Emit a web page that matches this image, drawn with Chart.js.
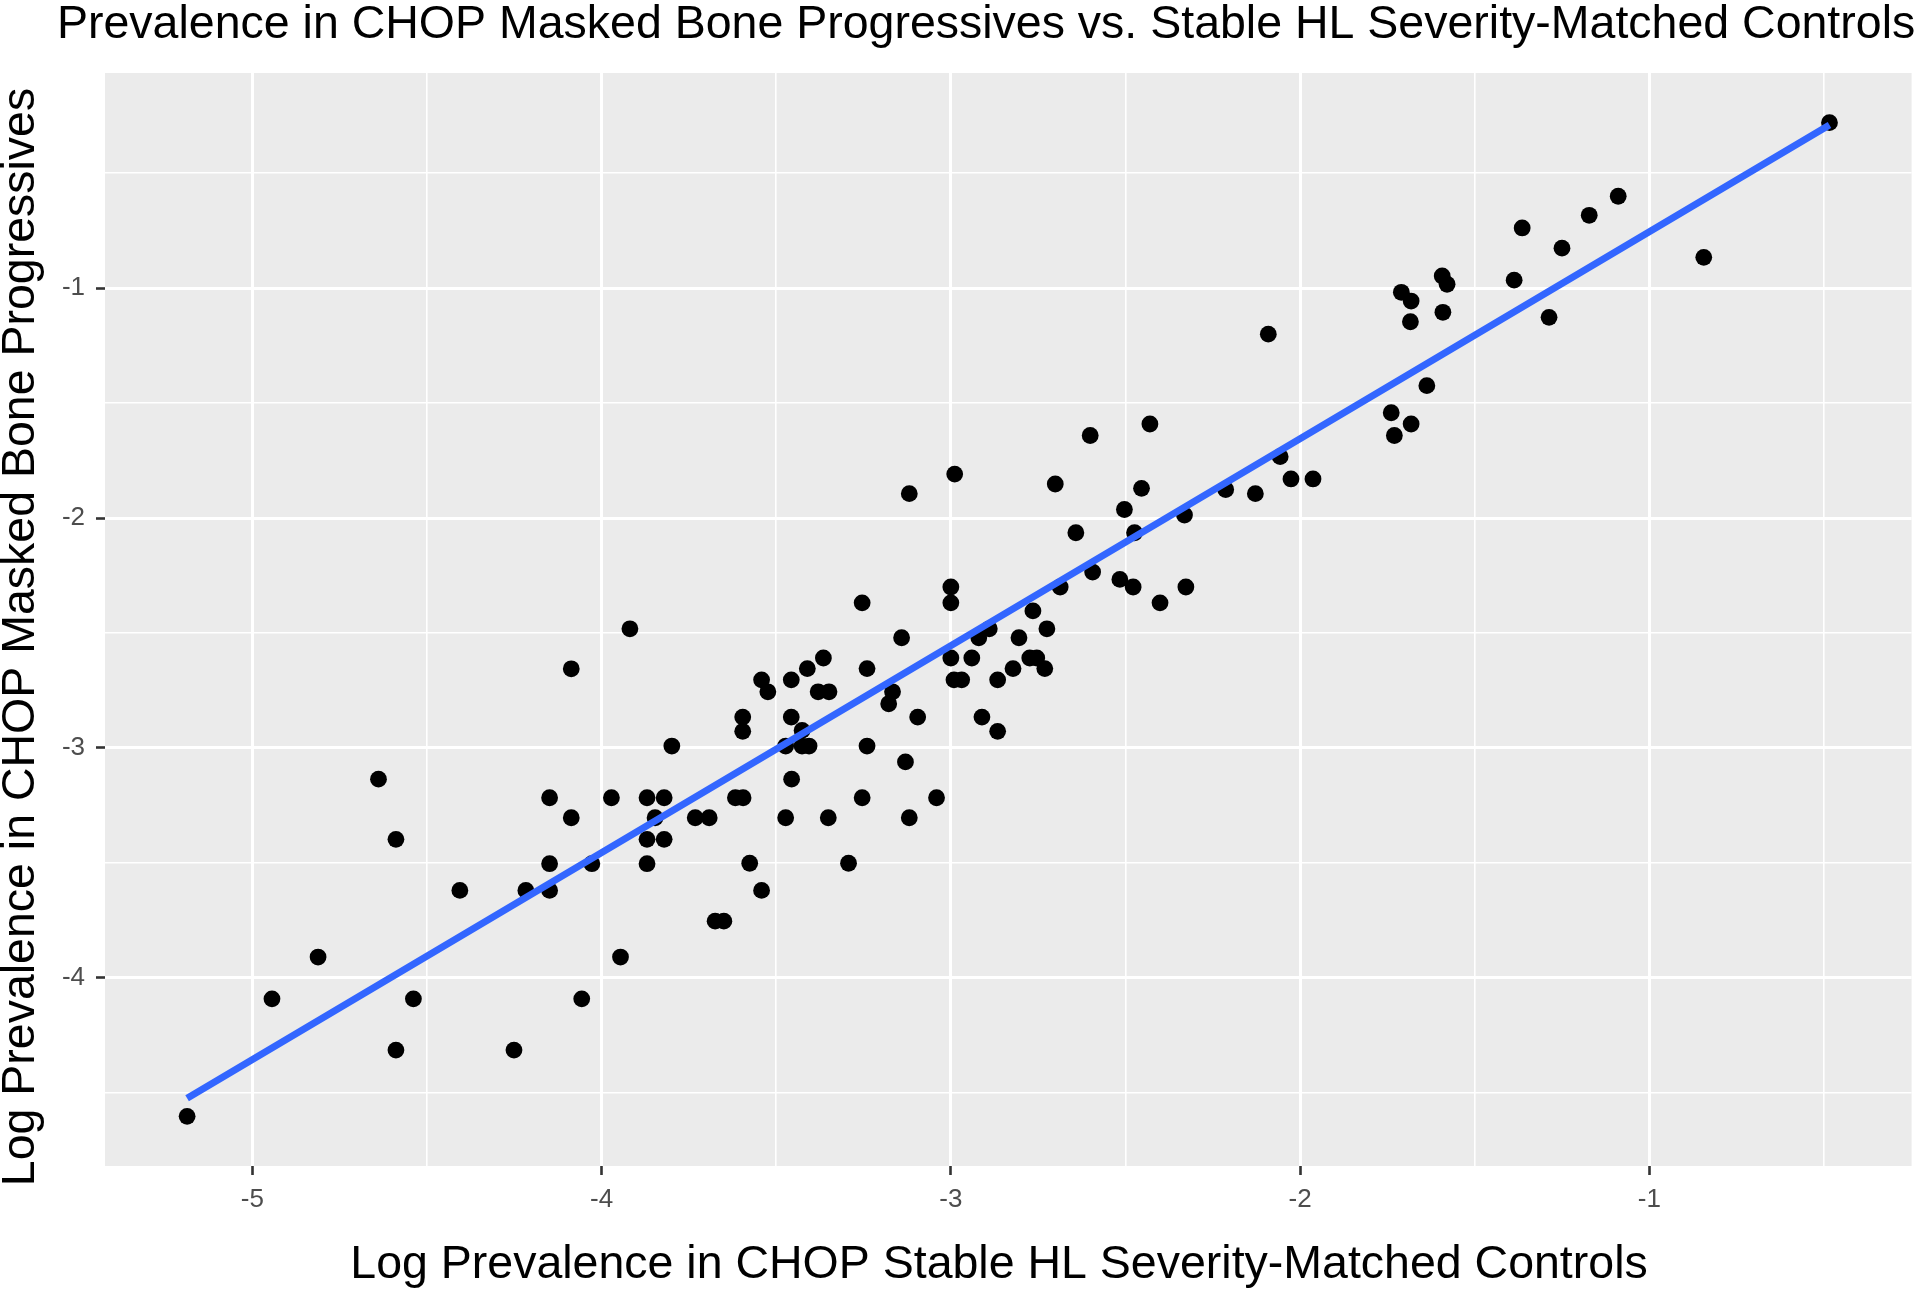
<!DOCTYPE html>
<html>
<head>
<meta charset="utf-8">
<script src="https://cdn.jsdelivr.net/npm/chart.js@4.4.0/dist/chart.umd.min.js"></script>
<style>
html,body{margin:0;padding:0;background:#ffffff;}
canvas{display:block;}
</style>
</head>
<body>
<canvas id="c" width="1920" height="1290"></canvas>
<script>
const chartTitle = "Prevalence in CHOP Masked Bone Progressives vs. Stable HL Severity-Matched Controls";
const xAxisTitle = "Log Prevalence in CHOP Stable HL Severity-Matched Controls";
const yAxisTitle = "Log Prevalence in CHOP Masked Bone Progressives";

const xMajorTicks = [-5, -4, -3, -2, -1];
const xMinorTicks = [-4.5, -3.5, -2.5, -1.5, -0.5];
const yMajorTicks = [-4, -3, -2, -1];
const yMinorTicks = [-4.5, -3.5, -2.5, -1.5, -0.5];

// Log prevalence in stable HL severity-matched controls (x)
const controlsLogPrev = [
  -0.484,-1.089,-1.172,-1.364,-1.250,-0.844,-1.387,-1.593,-1.579,-1.710,-1.682,-1.591,-1.684,-1.287,-1.637,-1.739,-1.682,-1.730,
  -2.091,-2.430,-2.601,-2.989,-3.119,-2.701,-2.454,-2.503,-2.331,-2.213,-2.128,-2.057,-2.026,-1.963,-2.642,-2.474,-2.594,-2.687,-2.516,-2.478,-2.401,-2.327,-2.765,-3.000,-3.000,-3.254,
  -3.141,-3.365,-3.411,-3.240,-3.542,-3.457,-3.524,-3.380,-3.349,-3.167,-3.178,-3.596,-3.457,-3.095,-3.596,-3.426,-3.473,-3.426,-3.406,-3.240,-3.130,-3.456,-3.617,-3.595,-3.254,-3.041,-3.473,-3.351,-3.119,-3.576,-3.293,-3.542,-3.675,-3.650,-3.000,-2.940,-2.991,-2.969,-2.920,-2.890,-2.805,-2.774,-2.754,-2.725,-2.822,-2.731,-2.866,-2.911,-2.866,
  -3.919,-4.087,-3.799,-4.639,-4.149,-3.972,-3.870,-3.821,-4.087,-3.847,-3.732,-3.692,-4.589,-3.870,-3.821,-4.149,-4.028,-3.870,-4.406,-4.217,-4.149,-4.812,-3.946,-4.944,-4.539,-4.057,-4.589,-4.251,-5.187
];
// Log prevalence in masked bone progressives (y)
const progressivesLogPrev = [
  -0.280,-0.600,-0.683,-0.738,-0.826,-0.866,-0.965,-0.947,-0.983,-1.018,-1.056,-1.105,-1.146,-1.127,-1.424,-1.542,-1.591,-1.641,
  -1.200,-1.591,-1.641,-1.809,-1.894,-1.852,-1.871,-1.963,-1.987,-1.876,-1.894,-1.733,-1.830,-1.830,-2.064,-2.064,-2.235,-2.300,-2.267,-2.300,-2.369,-2.300,-2.404,-2.300,-2.369,-2.369,
  -2.521,-2.609,-2.655,-2.655,-2.704,-2.704,-2.756,-2.756,-2.756,-2.756,-2.808,-2.866,-2.866,-2.866,-2.928,-2.924,-2.992,-2.992,-2.992,-2.992,-3.061,-3.136,-3.217,-3.217,-3.217,-3.217,-3.304,-3.304,-3.304,-3.502,-3.502,-3.620,-3.754,-3.754,-2.609,-2.609,-2.704,-2.704,-2.521,-2.482,-2.521,-2.609,-2.609,-2.482,-2.655,-2.655,-2.704,-2.866,-2.928,
  -2.482,-2.656,-2.992,-3.136,-3.217,-3.217,-3.217,-3.217,-3.304,-3.304,-3.304,-3.304,-3.398,-3.398,-3.398,-3.504,-3.504,-3.504,-3.620,-3.620,-3.620,-3.910,-3.910,-4.092,-4.092,-4.092,-4.315,-4.315,-4.603
];

// Linear fit line endpoints
const fitX = [-5.187, -0.484];
const fitY = [-4.524, -0.290];

const FONT_FAMILY = 'Liberation Sans, Arial, Helvetica, sans-serif';
const TICK_SIZE = 26;

Chart.defaults.font.family = FONT_FAMILY;
Chart.defaults.font.size = TICK_SIZE;
Chart.defaults.color = '#4D4D4D';

function expand(arr) {
  const lo = Math.min(...arr), hi = Math.max(...arr), r = hi - lo;
  return [lo - 0.05 * r, hi + 0.05 * r];
}
const [xMin, xMax] = expand(controlsLogPrev);
const [yMin, yMax] = expand(progressivesLogPrev);

const isMajorX = v => xMajorTicks.some(t => Math.abs(t - v) < 1e-9);
const isMajorY = v => yMajorTicks.some(t => Math.abs(t - v) < 1e-9);

const panelPlugin = {
  id: 'panel',
  beforeDraw(chart) {
    const { ctx, chartArea: a } = chart;
    ctx.save();
    ctx.fillStyle = '#EBEBEB';
    ctx.fillRect(a.left, a.top, a.right - a.left, a.bottom - a.top);
    ctx.restore();
  },
  afterDraw(chart) {
    const ctx = chart.ctx;
    ctx.save();
    ctx.fillStyle = '#000000';
    ctx.font = '46.5px ' + FONT_FAMILY;
    ctx.textBaseline = 'alphabetic';
    ctx.textAlign = 'left';
    ctx.fillText(chartTitle, 57, 38);
    ctx.textAlign = 'center';
    ctx.fillText(xAxisTitle, 999, 1278);
    ctx.translate(34, 637);
    ctx.rotate(-Math.PI / 2);
    ctx.fillText(yAxisTitle, 0, 0);
    ctx.restore();
  }
};

function gridCfg(isMajor) {
  return {
    color: '#FFFFFF',
    lineWidth: c => (c.tick && isMajor(c.tick.value)) ? 3 : 1.6,
    drawTicks: true,
    tickLength: 9,
    tickColor: c => (c.tick && isMajor(c.tick.value)) ? '#333333' : 'rgba(0,0,0,0)',
    tickWidth: c => (c.tick && isMajor(c.tick.value)) ? 2.6 : 0
  };
}

function build() {
  new Chart(document.getElementById('c'), {
    type: 'scatter',
    data: {
      datasets: [
        {
          type: 'line',
          label: 'fit',
          data: fitX.map((x, i) => ({ x: x, y: fitY[i] })),
          borderColor: '#3366FF',
          borderWidth: 7,
          pointRadius: 0,
          fill: false,
          tension: 0,
          order: 0
        },
        {
          type: 'scatter',
          label: 'points',
          data: controlsLogPrev.map((x, i) => ({ x: x, y: progressivesLogPrev[i] })),
          backgroundColor: '#000000',
          borderColor: '#000000',
          borderWidth: 0,
          pointRadius: 8.4,
          order: 1
        }
      ]
    },
    options: {
      responsive: false,
      animation: false,
      layout: { padding: { left: 0, right: 2, top: 73, bottom: 0 } },
      plugins: { legend: { display: false }, tooltip: { enabled: false }, title: { display: false } },
      scales: {
        x: {
          type: 'linear',
          min: xMin, max: xMax,
          afterFit(s) { s.height = 124; },
          afterBuildTicks(s) { s.ticks = [...xMajorTicks, ...xMinorTicks].sort((a, b) => a - b).map(v => ({ value: v })); },
          grid: gridCfg(isMajorX),
          border: { display: false },
          ticks: {
            autoSkip: false, maxRotation: 0, minRotation: 0, padding: 9,
            color: '#4D4D4D', font: { family: FONT_FAMILY, size: TICK_SIZE },
            callback: v => isMajorX(v) ? String(v) : ''
          }
        },
        y: {
          type: 'linear',
          min: yMin, max: yMax,
          afterFit(s) { s.width = 105; },
          afterBuildTicks(s) { s.ticks = [...yMajorTicks, ...yMinorTicks].sort((a, b) => a - b).map(v => ({ value: v })); },
          grid: gridCfg(isMajorY),
          border: { display: false },
          ticks: {
            autoSkip: false, padding: 11,
            color: '#4D4D4D', font: { family: FONT_FAMILY, size: TICK_SIZE },
            callback: v => isMajorY(v) ? String(v) : ''
          }
        }
      }
    },
    plugins: [panelPlugin]
  });
}

if (document.fonts && document.fonts.load) {
  document.fonts.load(TICK_SIZE + 'px "Liberation Sans"').then(build, build);
} else {
  build();
}
</script>
</body>
</html>
